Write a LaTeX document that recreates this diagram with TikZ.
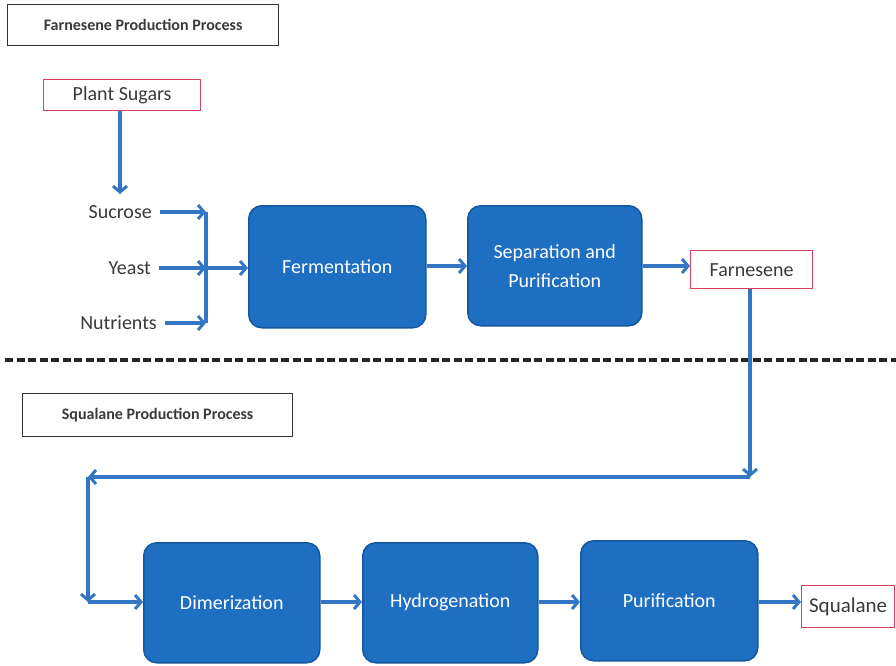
\documentclass[tikz,border=0pt]{standalone}
\usepackage{fontspec}
\setmainfont{Carlito}
\usetikzlibrary{arrows.meta}
\definecolor{boxblue}{HTML}{1E6EC2}
\definecolor{boxedge}{HTML}{15579E}
\definecolor{arrblue}{HTML}{3276C4}
\definecolor{redbox}{HTML}{D9415A}
\definecolor{txtgray}{HTML}{3A3A3A}
\begin{document}
\begin{tikzpicture}[x=1pt,y=-1pt,
  procbox/.style={draw=boxedge,fill=boxblue,line width=1.5pt,rounded corners=13pt,text=white,font=\fontsize{20}{29}\selectfont,align=center,anchor=north west,inner sep=0pt},
  prodbox/.style={draw=redbox,line width=1.3pt,text=txtgray,font=\fontsize{20}{24}\selectfont,anchor=north west,inner sep=0pt},
  titlebox/.style={draw=black!80,line width=1.2pt,text=txtgray,font=\fontsize{16}{19}\selectfont\bfseries,anchor=north west,inner sep=0pt},
  lbl/.style={text=txtgray,font=\fontsize{20}{24}\selectfont,anchor=east,inner sep=0pt},
  arr/.style={draw=arrblue,line width=3.2pt,-{Straight Barb[length=6pt,width=14pt,line width=3pt]}},
  ln/.style={draw=arrblue,line width=3.2pt}
]
\useasboundingbox (0,0) rectangle (896,665);
% titles
\node[titlebox,minimum width=271pt,minimum height=41pt] (t1) at (7,4) {Farnesene Production Process};
\node[titlebox,minimum width=270pt,minimum height=43pt] (t2) at (22,393) {Squalane Production Process};
% products
\node[prodbox,minimum width=157pt,minimum height=31pt] (ps) at (43,79) {Plant Sugars};
\node[prodbox,minimum width=122pt,minimum height=38pt] (far) at (690,250) {Farnesene};
\node[prodbox,minimum width=93pt,minimum height=42pt,font=\fontsize{21}{24}\selectfont] (sq) at (801,585) {Squalane};
% process boxes
\node[procbox,minimum width=177pt,minimum height=122pt] (fer) at (248,205) {Fermentation};
\node[procbox,minimum width=174pt,minimum height=120pt] (sep) at (467,205) {Separation and\\Purification};
\node[procbox,minimum width=176pt,minimum height=120pt] (dim) at (143,542) {Dimerization};
\node[procbox,minimum width=175pt,minimum height=120pt] (hyd) at (362,542) {Hydrogenation};
\node[procbox,minimum width=177pt,minimum height=120pt] (pur) at (580,540) {Purification};
% inputs
\node[lbl] (suc) at (152,212) {Sucrose};
\node[lbl] (yea) at (151,268) {Yeast};
\node[lbl] (nut) at (157,323) {Nutrients};
\coordinate (jx) at (206,0);
\coordinate (pst) at (120,194);
% dashed divider
\coordinate (d1) at (5,360);
\coordinate (d2) at (896,360);
\draw[black!85,line width=3.6pt,dash pattern=on 8pt off 3.5pt] (d1) -- (d2);
% connectors
\draw[arr] (ps.south -| pst) -- (pst);
\draw[arr] ([xshift=8pt]suc.east) -- (suc.east -| jx);
\draw[arr] ([xshift=8pt]yea.east) -- (yea.east -| jx);
\draw[arr] ([xshift=8pt]nut.east) -- (nut.east -| jx);
\draw[ln] (suc.east -| jx) -- (nut.east -| jx);
\draw[arr] (yea.east -| jx) -- (fer.west |- yea.east);
\draw[arr] (fer.east |- 0,266) -- (sep.west |- 0,266);
\draw[arr] (sep.east |- 0,266) -- (far.west |- 0,266);
\coordinate (c1) at (750,477);
\coordinate (c2) at (88,477);
\coordinate (c3) at (88,602);
\draw[arr] (far.south -| c1) -- (c1);
\draw[arr] (c1) -- (c2);
\draw[arr] (c2) -- (c3);
\draw[arr] (c3) -- (dim.west |- c3);
\draw[arr] (dim.east |- c3) -- (hyd.west |- c3);
\draw[arr] (hyd.east |- c3) -- (pur.west |- c3);
\draw[arr] (pur.east |- c3) -- (sq.west |- c3);
\end{tikzpicture}
\end{document}
